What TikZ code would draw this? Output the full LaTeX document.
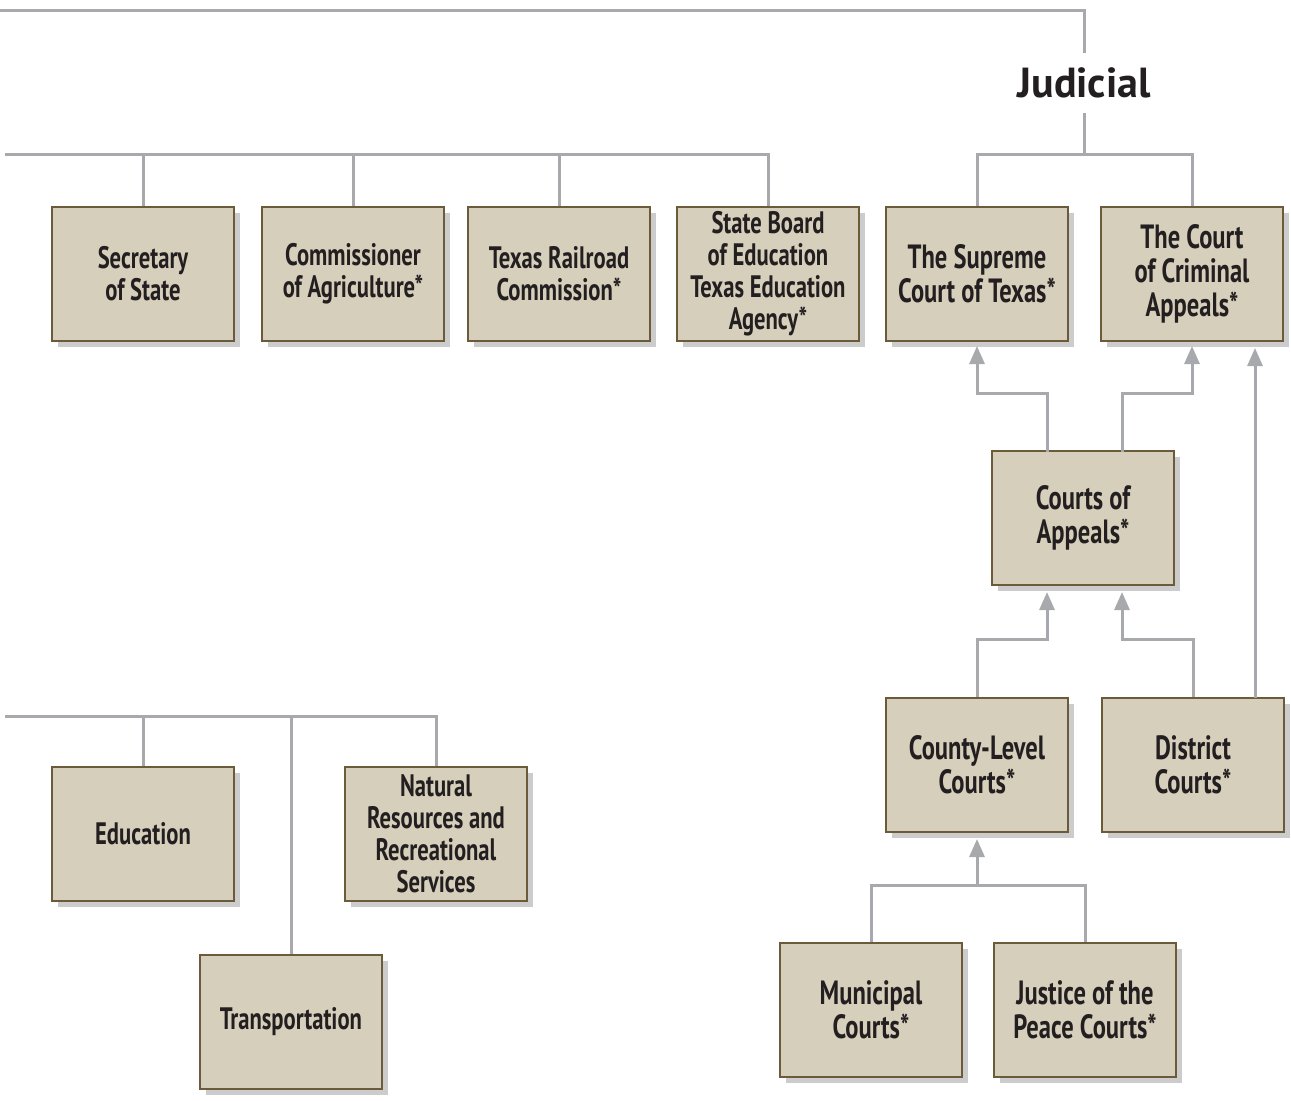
\documentclass[tikz,border=0pt]{standalone}
\usepackage{fontspec}
\usepackage{xcolor}
\usepackage{tikz}
\usetikzlibrary{arrows.meta,shadows}

\newfontfamily\boxfont[FakeStretch=0.73]{PT Sans}
\newfontfamily\headfont{PT Sans}

\definecolor{boxfill}{HTML}{D6CFBB}
\definecolor{boxedge}{HTML}{6B5B3B}
\definecolor{linegray}{HTML}{A7A9AC}
\definecolor{txt}{HTML}{231F20}

\tikzset{
  office/.style={draw=boxedge, line width=1pt, fill=boxfill,
    minimum width=91pt, minimum height=67pt, inner sep=2pt,
    align=center, text=txt,
    font=\boxfont\bfseries\fontsize{15.5}{16}\selectfont,
    drop shadow={shadow xshift=3pt, shadow yshift=-3pt, opacity=0.2, fill=black}},
  court/.style={office, font=\boxfont\bfseries\fontsize{16.8}{17}\selectfont},
  link/.style={draw=linegray, line width=1.5pt},
  arr/.style={link, -{Triangle[length=9pt, width=7.5pt]}}
}

\begin{document}
\begin{tikzpicture}[x=0.5pt, y=-0.5pt]
\useasboundingbox (0,0) rectangle (1291,1100);

%%    NODES   %%
\node (jud) at (1084,83) [text=txt, minimum height=30pt, inner sep=0pt,
  font=\headfont\bfseries\fontsize{21}{24}\selectfont] {Judicial};

\node[office] (sec) at (143,274) {Secretary\\of State};
\node[office] (agr) at (353,274) {Commissioner\\of Agriculture*};
\node[office] (rrc) at (559,274) {Texas Railroad\\Commission*};
\node[office] (sbe) at (768,274) {State Board\\of Education\\Texas Education\\Agency*};
\node[court] (sup) at (977,274) {The Supreme\\Court of Texas*};
\node[court] (cca) at (1192,274) {The Court\\of Criminal\\Appeals*};

\node[court] (coa) at (1083,518) {Courts of\\Appeals*};
\node[court] (cty) at (977,765) {County-Level\\Courts*};
\node[court] (dst) at (1193,765) {District\\Courts*};
\node[court] (mun) at (871,1010) {Municipal\\Courts*};
\node[court] (jp) at (1085,1010) {Justice of the\\Peace Courts*};

\node[office] (edu) at (143,834) {Education};
\node[office] (nat) at (436,834) {Natural\\Resources and\\Recreational\\Services};
\node[office] (trn) at (291,1022) {Transportation};

%%    BUS POINTS    %%
\coordinate (topL) at (0,10);
\coordinate (jbus) at (1084,154);
\coordinate (ebus) at (5,154);
\coordinate (abus) at (5,716);
\coordinate (lbus) at (977,885);
\coordinate (coaA) at (1047,452);
\coordinate (coaB) at (1122,452);
\coordinate (dstR) at (1255,698);

%%    LINES    %%
\draw[link] (topL) -| (jud.north);
\draw[link] (jud.south) -- (jbus);
\draw[link] (sup.north) |- (jbus) -| (cca.north);

\draw[link] (ebus) -| (sbe.north);
\foreach \n in {sec,agr,rrc}
  \draw[link] (\n.north) -- (\n.north |- ebus);

\draw[link] (abus) -| (nat.north);
\foreach \n in {edu,trn}
  \draw[link] (\n.north) -- (\n.north |- abus);

\draw[link] (mun.north) |- (lbus) -| (jp.north);

%%    ARROWS    %%
\draw[arr] (coaA) -- ++(0,-59) -| ([yshift=-2pt]sup.south);
\draw[arr] (coaB) -- ++(0,-59) -| ([yshift=-2pt]cca.south);
\draw[arr] (dstR) -- ([yshift=-3pt]dstR |- cca.south);
\draw[arr] (cty.north) -- ++(0,-58) -| ([yshift=-3pt]coaA |- coa.south);
\draw[arr] (dst.north) -- ++(0,-58) -| ([yshift=-3pt]coaB |- coa.south);
\draw[arr] (lbus) -- ([yshift=-3pt]cty.south);

\end{tikzpicture}
\end{document}
